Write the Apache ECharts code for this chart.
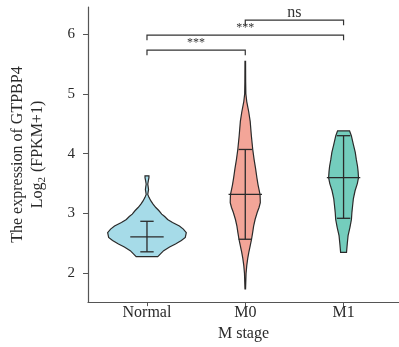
<!DOCTYPE html>
<html>
<head>
<meta charset="utf-8">
<script src="https://cdn.jsdelivr.net/npm/echarts@6/dist/echarts.min.js"></script>
<style>
  html, body { margin: 0; padding: 0; background: #fff; }
  #chart { width: 399px; height: 347px; }
</style>
</head>
<body>
<div id="chart"></div>
<script>
const categories = ['Normal', 'M0', 'M1']
const fills = ['#a6dbe8', '#f3a598', '#74cdbd']

// violin outlines: [log2 value, half width in x-axis units]
const normalViolin = [
  [2.28, 0.11], [2.33, 0.14], [2.38, 0.17], [2.44, 0.23], [2.49, 0.29], [2.55, 0.35],
  [2.60, 0.39], [2.68, 0.40], [2.74, 0.37], [2.79, 0.33], [2.85, 0.26], [2.90, 0.21],
  [2.95, 0.18], [2.99, 0.15], [3.05, 0.12], [3.10, 0.09], [3.16, 0.06], [3.21, 0.04],
  [3.27, 0.02], [3.32, 0.008], [3.36, 0.012], [3.40, 0.016], [3.45, 0.012], [3.49, 0.008],
  [3.55, 0.014], [3.60, 0.02], [3.63, 0.02]
]
const m0Violin = [
  [1.74, 0.003], [2.00, 0.008], [2.13, 0.015], [2.25, 0.025], [2.35, 0.036], [2.46, 0.05],
  [2.57, 0.064], [2.68, 0.075], [2.79, 0.085], [2.90, 0.10], [3.02, 0.122], [3.10, 0.14],
  [3.18, 0.153], [3.25, 0.152], [3.32, 0.15], [3.40, 0.14], [3.48, 0.13], [3.60, 0.118],
  [3.75, 0.105], [3.90, 0.09], [4.07, 0.076], [4.30, 0.062], [4.54, 0.05], [4.70, 0.035],
  [4.87, 0.015], [5.00, 0.006], [5.20, 0.004], [5.54, 0.003]
]
const m1Violin = [
  [2.35, 0.03], [2.50, 0.038], [2.63, 0.046], [2.77, 0.065], [2.90, 0.08], [3.02, 0.085],
  [3.13, 0.092], [3.25, 0.10], [3.38, 0.117], [3.50, 0.14], [3.60, 0.152], [3.70, 0.148],
  [3.79, 0.142], [3.90, 0.13], [4.02, 0.119], [4.15, 0.10], [4.30, 0.079], [4.38, 0.061]
]
const violins = [normalViolin, m0Violin, m1Violin]

const meanValues = [2.61, 3.32, 3.60]
const upperValues = [2.87, 4.07, 4.30]
const lowerValues = [2.36, 2.57, 2.92]

// significance brackets: [from index, to index, label, bracket level]
const comparisons = [
  [0, 1, '***', 5.73],
  [0, 2, '***', 5.98],
  [1, 2, 'ns', 6.23]
]

const yTicks = [2, 3, 4, 5, 6]
const xTicks = [1, 2, 3]

const serif = '"Liberation Serif", "DejaVu Serif", serif'
const ink = '#2a2a2a'

const chart = echarts.init(document.getElementById('chart'))

const violinSeries = {
  type: 'custom',
  clip: false,
  data: categories.map((c, i) => [i]),
  renderItem: (params, api) => {
    const i = api.value(0)
    const x = i + 1
    const prof = violins[i]
    const right = prof.map(([v, w]) => api.coord([x + w, v]))
    const left = prof.slice().reverse().map(([v, w]) => api.coord([x - w, v]))
    const line = (a, b) => ({
      type: 'line',
      shape: { x1: a[0], y1: a[1], x2: b[0], y2: b[1] },
      style: { stroke: ink, lineWidth: 1.3 }
    })
    return {
      type: 'group',
      children: [
        {
          type: 'polygon',
          shape: { points: right.concat(left) },
          style: { fill: fills[i], stroke: ink, lineWidth: 1.2 }
        },
        line(api.coord([x, lowerValues[i]]), api.coord([x, upperValues[i]])),
        line(api.coord([x - 0.17, meanValues[i]]), api.coord([x + 0.17, meanValues[i]])),
        line(api.coord([x - 0.068, upperValues[i]]), api.coord([x + 0.068, upperValues[i]])),
        line(api.coord([x - 0.068, lowerValues[i]]), api.coord([x + 0.068, lowerValues[i]]))
      ]
    }
  }
}

const bracketSeries = {
  type: 'custom',
  clip: false,
  data: comparisons.map((c, i) => [i]),
  renderItem: (params, api) => {
    const [from, to, label, level] = comparisons[api.value(0)]
    const p1 = api.coord([from + 1, level - 0.085])
    const p2 = api.coord([from + 1, level])
    const p3 = api.coord([to + 1, level])
    const p4 = api.coord([to + 1, level - 0.085])
    const isNs = label === 'ns'
    return {
      type: 'group',
      children: [
        {
          type: 'polyline',
          shape: { points: [p1, p2, p3, p4] },
          style: { stroke: '#333', lineWidth: 1.2, fill: null }
        },
        {
          type: 'text',
          x: (p2[0] + p3[0]) / 2,
          y: p2[1] + (isNs ? 1 : -1),
          style: {
            text: label,
            fill: '#333',
            font: (isNs ? '16px ' : '12px ') + serif,
            align: 'center',
            verticalAlign: 'bottom'
          }
        }
      ]
    }
  }
}

const option = {
  animation: false,
  grid: { left: 88, right: 0, top: 7, bottom: 44 },
  xAxis: {
    type: 'value',
    min: 0.4,
    max: 3.564,
    name: 'M stage',
    nameLocation: 'middle',
    nameGap: 14,
    nameTextStyle: { fontFamily: serif, fontSize: 16, color: ink },
    axisLine: { show: true, lineStyle: { color: '#555', width: 1.2 } },
    axisTick: { show: true, customValues: xTicks, length: 4, lineStyle: { color: '#555' } },
    axisLabel: {
      customValues: xTicks,
      margin: 3,
      fontFamily: serif,
      fontSize: 16,
      color: ink,
      formatter: v => categories[Math.round(v) - 1]
    },
    splitLine: { show: false }
  },
  yAxis: {
    type: 'value',
    min: 1.52,
    max: 6.45,
    name: 'The expression of GTPBP4\n{l|Log}{s|2}{l| (FPKM+1)}',
    nameLocation: 'middle',
    nameRotate: 90,
    nameGap: 40,
    nameTextStyle: {
      fontFamily: serif,
      fontSize: 16,
      color: ink,
      lineHeight: 20,
      rich: {
        l: { fontFamily: serif, fontSize: 16, color: ink, lineHeight: 20 },
        s: { fontFamily: serif, fontSize: 11, color: ink, lineHeight: 20, padding: [8, 1, 0, 0] }
      }
    },
    axisLine: { show: true, lineStyle: { color: '#555', width: 1.2 } },
    axisTick: { show: true, customValues: yTicks, length: 5, lineStyle: { color: '#555' } },
    axisLabel: {
      customValues: yTicks,
      margin: 13,
      fontFamily: serif,
      fontSize: 15,
      color: ink
    },
    splitLine: { show: false }
  },
  series: [violinSeries, bracketSeries]
}

chart.setOption(option)
</script>
</body>
</html>
